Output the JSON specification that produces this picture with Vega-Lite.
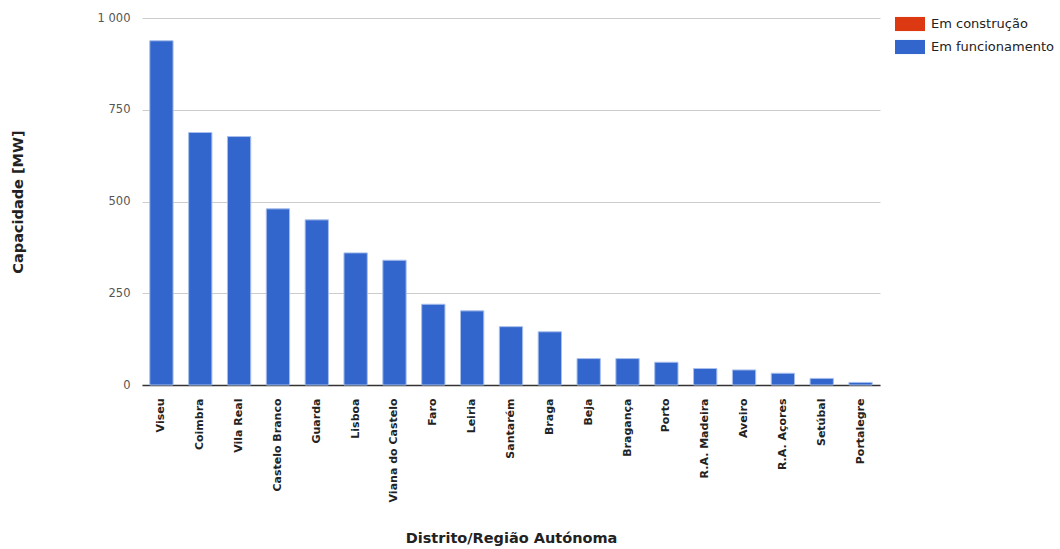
{
  "$schema": "https://vega.github.io/schema/vega-lite/v6.json",
  "width": 738,
  "height": 367,
  "autosize": {"type": "none"},
  "padding": {"left": 142, "top": 18, "right": 180, "bottom": 164},
  "background": "#ffffff",
  "data": {
    "values": [
      {"distrito": "Viseu", "estado": "Em funcionamento", "mw": 938},
      {"distrito": "Coimbra", "estado": "Em funcionamento", "mw": 688},
      {"distrito": "Vila Real", "estado": "Em funcionamento", "mw": 677},
      {"distrito": "Castelo Branco", "estado": "Em funcionamento", "mw": 480},
      {"distrito": "Guarda", "estado": "Em funcionamento", "mw": 450},
      {"distrito": "Lisboa", "estado": "Em funcionamento", "mw": 360},
      {"distrito": "Viana do Castelo", "estado": "Em funcionamento", "mw": 340},
      {"distrito": "Faro", "estado": "Em funcionamento", "mw": 220},
      {"distrito": "Leiria", "estado": "Em funcionamento", "mw": 202},
      {"distrito": "Santarém", "estado": "Em funcionamento", "mw": 159},
      {"distrito": "Braga", "estado": "Em funcionamento", "mw": 145},
      {"distrito": "Beja", "estado": "Em funcionamento", "mw": 72},
      {"distrito": "Bragança", "estado": "Em funcionamento", "mw": 72},
      {"distrito": "Porto", "estado": "Em funcionamento", "mw": 62},
      {"distrito": "R.A. Madeira", "estado": "Em funcionamento", "mw": 45},
      {"distrito": "Aveiro", "estado": "Em funcionamento", "mw": 41},
      {"distrito": "R.A. Açores", "estado": "Em funcionamento", "mw": 32},
      {"distrito": "Setúbal", "estado": "Em funcionamento", "mw": 18},
      {"distrito": "Portalegre", "estado": "Em funcionamento", "mw": 7}
    ]
  },
  "mark": {"type": "bar", "stroke": "#a8bfec", "strokeWidth": 1},
  "encoding": {
    "x": {
      "field": "distrito",
      "type": "nominal",
      "sort": null,
      "scale": {"paddingInner": 0.4, "paddingOuter": 0.2},
      "axis": {
        "title": "Distrito/Região Autónoma",
        "titleFont": "DejaVu Sans",
        "titleFontSize": 14.5,
        "titleFontWeight": "bold",
        "titleColor": "#222222",
        "titleY": 153,
        "titleBaseline": "middle",
        "labelAngle": -90,
        "labelFont": "DejaVu Sans",
        "labelFontSize": 11,
        "labelFontWeight": "bold",
        "labelColor": "#222222",
        "labelPadding": 13,
        "ticks": false,
        "domainColor": "#333333",
        "domainWidth": 1.5
      }
    },
    "y": {
      "field": "mw",
      "type": "quantitative",
      "stack": "zero",
      "scale": {"domain": [0, 1000], "nice": false},
      "axis": {
        "title": "Capacidade [MW]",
        "titleFont": "DejaVu Sans",
        "titleFontSize": 14.5,
        "titleFontWeight": "bold",
        "titleColor": "#222222",
        "titleX": -124,
        "titleBaseline": "middle",
        "values": [0, 250, 500, 750, 1000],
        "labelExpr": "replace(format(datum.value, ','), ',', ' ')",
        "labelFont": "DejaVu Sans",
        "labelFontSize": 11.5,
        "labelColor": "#555555",
        "labelPadding": 12,
        "ticks": false,
        "domain": false,
        "gridColor": "#cccccc",
        "gridWidth": 1
      }
    },
    "color": {
      "field": "estado",
      "type": "nominal",
      "scale": {
        "domain": ["Em construção", "Em funcionamento"],
        "range": ["#dc3912", "#3366cc"]
      },
      "legend": {
        "title": null,
        "orient": "none",
        "legendX": 753,
        "legendY": -9,
        "symbolType": "M-1,-0.47H1V0.47H-1Z",
        "symbolSize": 900,
        "symbolStrokeWidth": 0,
        "symbolOpacity": 1,
        "labelFont": "DejaVu Sans",
        "labelFontSize": 13,
        "labelColor": "#222222",
        "labelOffset": 6,
        "rowPadding": -7
      }
    }
  },
  "config": {"view": {"stroke": null}}
}
